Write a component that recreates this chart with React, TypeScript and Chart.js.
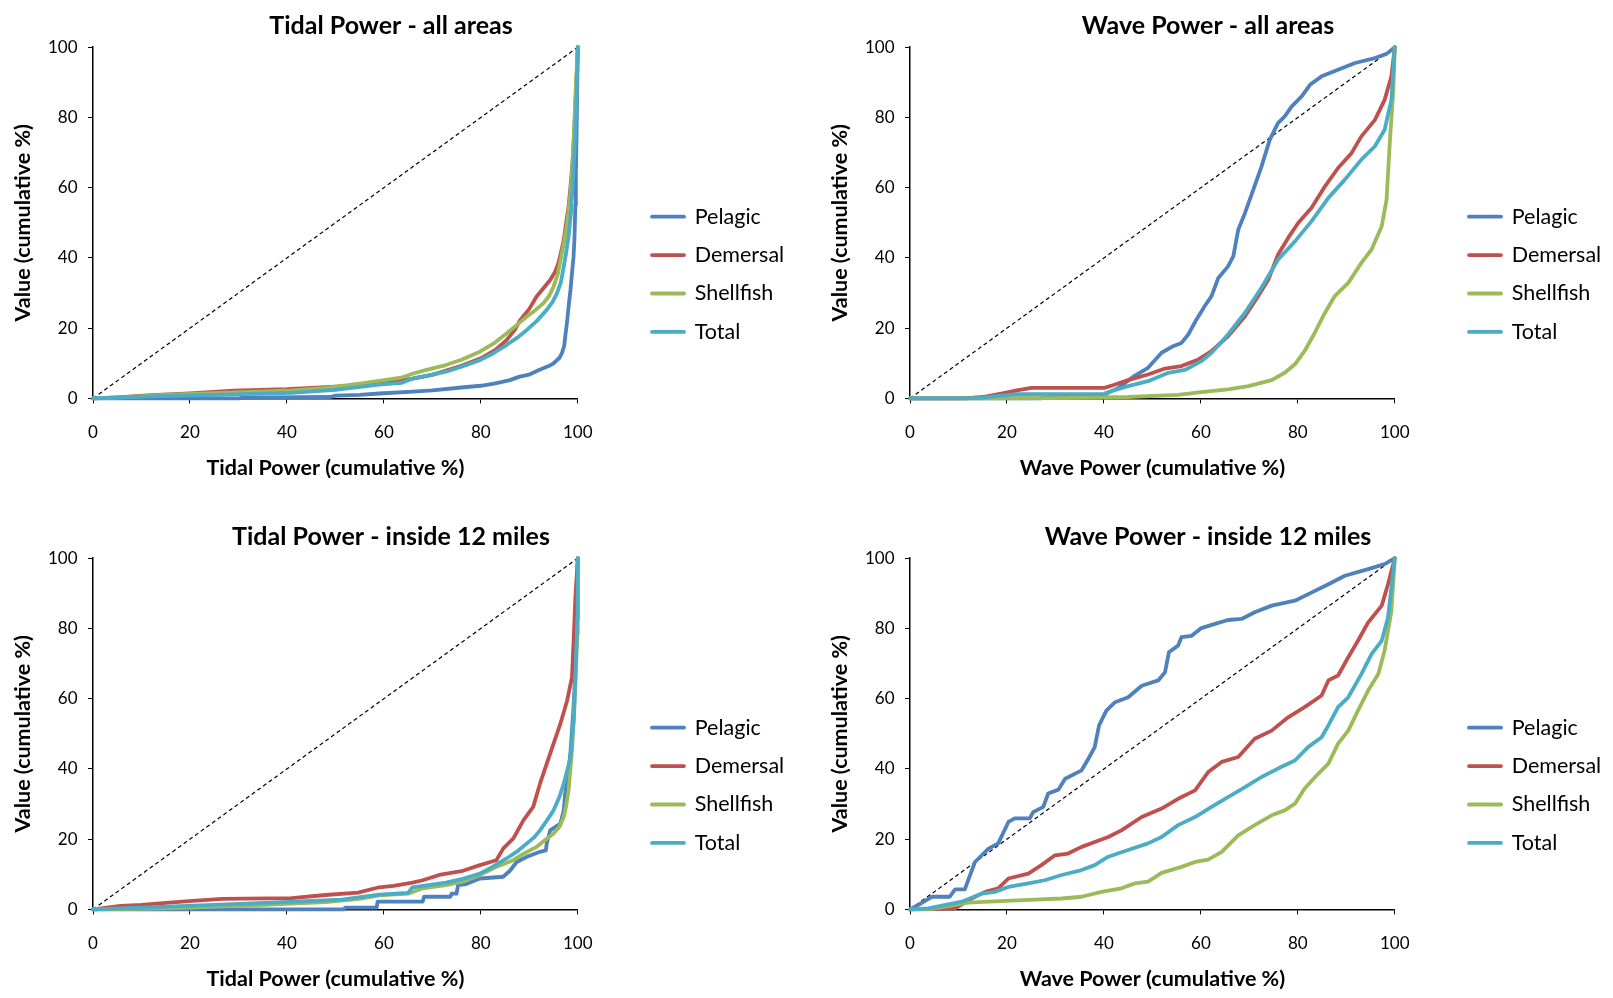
import React, { useEffect, useRef } from "react";
import { Chart, registerables } from "chart.js";

Chart.register(...registerables);

type Pt = [number, number];

// ---- series definitions -------------------------------------------------
const seriesNames = ["Pelagic", "Demersal", "Shellfish", "Total"];
const seriesColors = ["#4F81BD", "#C0504D", "#9BBB59", "#4BACC6"];
const axisTicks = [0, 20, 40, 60, 80, 100];
const equalityLine: Pt[] = [[0, 0], [100, 100]];

// Tidal power, all areas: cumulative share of value vs cumulative share of power
const tidalAllPelagic: Pt[] = [
  [0, 0], [30, 0], [31, 0.2], [49, 0.4], [50, 0.8], [55, 1], [59, 1.4], [66, 1.9], [70, 2.3],
  [76, 3.1], [80, 3.6], [83, 4.3], [86, 5.2], [88, 6.2], [90, 6.8], [92, 8.1], [94, 9.2],
  [95, 10], [96.2, 11.5], [96.7, 12.8], [97.2, 15], [97.4, 17.5], [97.8, 22], [98.1, 26.1],
  [98.5, 31], [98.8, 35.6], [99.1, 40], [99.3, 45.1], [99.5, 55], [99.6, 64], [99.8, 80], [100, 100],
];
const tidalAllDemersal: Pt[] = [
  [0, 0], [5, 0.3], [12, 0.9], [20, 1.4], [29, 2.2], [40, 2.6], [47, 3.1], [55, 3.7], [60, 4.5],
  [66, 5.6], [70, 6.7], [73, 8], [76, 9.3], [80, 11.4], [83, 13.8], [85.3, 16.6], [87, 19.5],
  [88.1, 22.3], [90, 25.5], [91.5, 29], [93, 31.5], [94.3, 33.7], [95.3, 36], [96, 38.5],
  [96.6, 42], [97.1, 45.1], [97.6, 50], [98.1, 54.6], [98.6, 62], [99, 68.9], [99.5, 83.1], [100, 100],
];
const tidalAllShellfish: Pt[] = [
  [0, 0], [6, 0.3], [14.5, 1], [25, 1.5], [41, 2.3], [48, 3], [55, 4.2], [59, 5], [63.6, 5.9],
  [66, 7.1], [69, 8.2], [72.8, 9.5], [76, 11], [79.8, 13.3], [82.5, 15.5], [85.3, 18.5],
  [87.5, 21], [89.5, 23.3], [91.3, 25.2], [92.9, 27.1], [94, 29], [95, 31.8], [95.9, 35.5],
  [96.7, 41.3], [97.3, 45.5], [97.8, 49.9], [98.4, 57], [98.8, 64.1], [99.2, 75], [99.5, 86], [100, 100],
];
const tidalAllTotal: Pt[] = [
  [0, 0], [12.5, 0.6], [25, 1], [41, 1.6], [50, 2.4], [54.7, 3.2], [59, 3.9], [63.6, 4.4],
  [66, 5.7], [69, 6.5], [72.8, 7.6], [76, 9], [79.8, 10.9], [82.5, 12.8], [85.3, 15.2],
  [87.5, 17.3], [89.5, 19.5], [91.5, 22], [93.6, 25.2], [94.8, 27.5], [95.7, 29.9], [96.5, 33],
  [97.1, 37.5], [97.6, 41.5], [98.1, 46.1], [98.6, 53], [99, 62.2], [99.4, 72], [99.7, 83], [100, 100],
];

// Wave power, all areas
const waveAllPelagic: Pt[] = [
  [0, 0], [27, 0], [27.5, 0.2], [40, 1], [43, 3], [46.4, 6.5], [49.1, 8.7], [51.9, 13], [54, 14.7],
  [56, 15.8], [57.4, 18.2], [59.1, 22.5], [60.8, 26.3], [62.2, 29.1], [63.6, 34.3], [65.6, 37.6],
  [66.7, 40.5], [67.7, 48], [69.1, 52.8], [70.8, 59.4], [72.5, 66], [74.2, 73.6], [75.9, 78.4],
  [77.3, 80.3], [78.7, 83.1], [80.8, 86], [82.5, 89.3], [84.9, 91.7], [88.3, 93.6], [91.8, 95.5],
  [95.9, 96.9], [98.3, 98.1], [100, 100],
];
const waveAllDemersal: Pt[] = [
  [0, 0], [11.3, 0], [15, 0.4], [19.6, 1.6], [22, 2.3], [25.1, 3], [40.1, 3], [42, 3.8], [45, 5.2],
  [49.1, 6.8], [52.6, 8.5], [56, 9.2], [59.5, 11.1], [62.2, 13.5], [65.6, 17.7], [69.1, 23.4],
  [71.8, 29.1], [73.9, 33.8], [75.9, 40.9], [78, 45.7], [80.1, 50], [82.8, 54.2], [85.6, 60.4],
  [88.3, 65.6], [91.1, 69.9], [93.1, 74.6], [95.9, 79.3], [97.9, 85], [99.3, 91.7], [100, 100],
];
const waveAllShellfish: Pt[] = [
  [0, 0], [14, 0], [30, 0.1], [45, 0.4], [55.3, 1], [60.1, 1.8], [65.6, 2.6], [69.8, 3.5],
  [74.6, 5.2], [77.3, 7.3], [79.4, 9.7], [81.4, 13.5], [83.5, 18.7], [85.6, 24.4], [87.6, 29.1],
  [90.4, 32.9], [93.1, 38.6], [95.2, 42.4], [97.3, 49], [98.3, 56.6], [99, 73.6], [99.7, 87.9], [100, 100],
];
const waveAllTotal: Pt[] = [
  [0, 0], [14, 0.1], [22, 1.2], [40, 1.3], [42, 2.3], [45, 3.5], [49.1, 4.9], [53.3, 7.3],
  [56.7, 8.1], [60.1, 10.6], [62.2, 13], [65.6, 18.2], [69.1, 24.4], [72.5, 31.5], [75.9, 39.5],
  [79.4, 44.7], [82.8, 50.4], [86.3, 57.1], [89.7, 62.3], [93.1, 68], [95.9, 71.8], [97.9, 76.5],
  [99.3, 85], [100, 100],
];

// Tidal power, inside 12 miles
const tidalInPelagic: Pt[] = [
  [0, 0], [51.8, 0], [52, 0.5], [58.5, 0.5], [58.7, 2.2], [68, 2.2], [68.3, 3.6], [73.7, 3.6],
  [74, 4.5], [75, 4.5], [75.3, 6.9], [77, 7.2], [79.8, 8.8], [84.6, 9.3], [86, 11], [87.4, 13.5],
  [89.5, 15], [92.2, 16.4], [93.4, 16.8], [93.6, 18.8], [94.3, 22.5], [96.4, 24.4], [97.1, 28.2],
  [97.4, 33], [98, 38], [98.5, 45], [99, 55], [99.3, 62], [99.6, 78], [100, 100],
];
const tidalInDemersal: Pt[] = [
  [0, 0], [5.7, 1], [10, 1.3], [15.7, 1.9], [20.5, 2.4], [26.7, 3], [41, 3.2], [47.9, 4.1],
  [54.7, 4.8], [59, 6.3], [62, 6.7], [65.9, 7.6], [68, 8.3], [71.4, 9.8], [76.3, 11], [79.8, 12.6],
  [83.2, 14], [84.6, 17.3], [86.7, 20.2], [88.8, 25.4], [90.8, 29.2], [92.2, 35.8], [93.6, 41.5],
  [95, 47.2], [96.4, 52.8], [97.8, 59.5], [98.8, 66.1], [99.2, 78.4], [99.5, 88.8], [100, 100],
];
const tidalInShellfish: Pt[] = [
  [0, 0], [15, 0.3], [34.2, 1.2], [47.9, 2.1], [55, 3], [59, 4], [65, 4.5], [68, 6], [72.8, 6.9],
  [76, 7.8], [79.8, 9.8], [83, 12], [86.7, 14], [89, 16], [91.5, 17.8], [93, 19.5], [95, 21.6],
  [96.2, 23.5], [97.1, 26.3], [97.6, 29.5], [98.1, 33.9], [98.8, 45.3], [99.2, 55], [99.5, 64.2],
  [99.9, 78.4], [100, 100],
];
const tidalInTotal: Pt[] = [
  [0, 0], [15.3, 0.8], [34.2, 1.8], [51.3, 2.8], [59, 4.2], [65, 4.7], [65.9, 6.3], [72.8, 7.6],
  [76, 8.6], [79.8, 10.2], [82.5, 12.2], [85.3, 14.5], [87.5, 16.5], [89.5, 18.8], [91, 20.5],
  [92.2, 22.5], [93.6, 25.3], [95, 28.2], [96.2, 32], [97.1, 35.8], [97.9, 40], [98.5, 43.4],
  [99.2, 54.7], [99.6, 70], [99.9, 83], [100, 100],
];

// Wave power, inside 12 miles
const waveInPelagic: Pt[] = [
  [0, 0], [2, 1.5], [4.5, 3.6], [8.2, 3.6], [9.3, 5.7], [11.3, 5.7], [13.4, 13.5], [16.2, 17.3],
  [18.2, 18.8], [20.3, 24.9], [21.6, 25.9], [24.7, 25.9], [25.4, 27.7], [27.5, 29.2], [28.5, 33],
  [30.6, 34.1], [32, 37.2], [35.4, 39.6], [36.8, 42.9], [38.1, 46.2], [39, 52.4], [40.5, 56.6],
  [42.3, 59], [45, 60.4], [47.8, 63.7], [51.2, 65.2], [52.6, 67.5], [53.4, 73.2], [55.3, 75.1],
  [56, 77.5], [58.1, 77.9], [60.1, 80.1], [62.9, 81.3], [65.6, 82.4], [68.4, 82.7], [71.1, 84.6],
  [74.6, 86.5], [79.4, 87.9], [82.8, 90.2], [86.3, 92.6], [89.7, 95], [94.5, 96.9], [97.9, 98.3], [100, 100],
];
const waveInDemersal: Pt[] = [
  [0, 0], [9.3, 0.3], [12.7, 3.1], [15.5, 5], [18.2, 6], [20.3, 8.8], [24.4, 10.2], [27.1, 12.6],
  [29.9, 15.4], [32.6, 15.9], [35.4, 17.8], [38.1, 19.2], [40.9, 20.6], [43.6, 22.5], [47.8, 26.3],
  [51.9, 28.7], [55.3, 31.5], [58.8, 33.9], [61.5, 39.1], [64.3, 42], [67.7, 43.4], [71.1, 48.6],
  [74.6, 50.9], [78, 54.7], [81.4, 57.6], [84.9, 60.9], [86.3, 65.2], [88.3, 66.6], [90.4, 71.8],
  [92.4, 76.5], [94.5, 81.7], [97.3, 86.5], [98.6, 92.6], [100, 100],
];
const waveInShellfish: Pt[] = [
  [0, 0], [3.8, 0], [7.9, 0.9], [12, 1.9], [16.2, 2.2], [21, 2.5], [25.8, 2.8], [31.3, 3.1],
  [35.4, 3.6], [39.5, 5], [43.6, 6], [46.4, 7.4], [49.1, 7.9], [51.9, 10.4], [56, 12.1],
  [58.8, 13.5], [61.5, 14.2], [64.3, 16.4], [67.7, 21.1], [71.1, 24], [74.6, 26.8], [77.3, 28.2],
  [79.4, 30.1], [81.4, 34.4], [84.2, 38.6], [86.3, 41.5], [88.3, 47.2], [90.4, 50.9], [92.4, 56.6],
  [94.5, 62.3], [96.6, 67], [97.9, 73.7], [99.3, 85], [100, 100],
];
const waveInTotal: Pt[] = [
  [0, 0], [3.8, 0.3], [10.7, 2.2], [14.8, 4.5], [17.5, 5], [20.3, 6.4], [24.4, 7.4], [27.8, 8.3],
  [31.3, 9.8], [35.4, 11.2], [38.1, 12.6], [40.9, 15], [45, 16.9], [49.1, 18.8], [51.9, 20.6],
  [55.3, 24], [58.8, 26.3], [62.2, 29.2], [65.6, 32], [69.1, 34.8], [72.5, 37.7], [75.9, 40.1],
  [79.4, 42.4], [82.1, 46.2], [84.9, 49], [86.3, 52.4], [88.3, 57.6], [90.4, 60.4], [93.1, 67],
  [95.2, 72.7], [97.3, 76.5], [98.6, 83.1], [100, 100],
];

const panelTitles = [
  "Tidal Power - all areas",
  "Wave Power - all areas",
  "Tidal Power - inside 12 miles",
  "Wave Power - inside 12 miles",
];
const panelXTitles = [
  "Tidal Power (cumulative %)",
  "Wave Power (cumulative %)",
  "Tidal Power (cumulative %)",
  "Wave Power (cumulative %)",
];
const yAxisTitle = "Value (cumulative %)";
const panelSeries: Pt[][][] = [
  [tidalAllPelagic, tidalAllDemersal, tidalAllShellfish, tidalAllTotal],
  [waveAllPelagic, waveAllDemersal, waveAllShellfish, waveAllTotal],
  [tidalInPelagic, tidalInDemersal, tidalInShellfish, tidalInTotal],
  [waveInPelagic, waveInDemersal, waveInShellfish, waveInTotal],
];

// ---- layout ---------------------------------------------------------------
const FONT = "Lato";
const FRAME_W = 796;
const FRAME_H = 487;
const AREA = { left: 93, right: 577.8, top: 47.2, bottom: 398.4 };
const X_AXIS_H = 82.5;
const LINE_W = 3.8;
const panelOrigins: [number, number][] = [[0, 0], [817, 0], [0, 511], [817, 511]];

// Moves the legend and the title block to fixed spots beside the plot area.
const pinBlocks = {
  id: "pinBlocks",
  afterLayout(chart: any, _args: any, opts: any) {
    const lg = chart.legend;
    if (lg && opts.legendX != null) {
      const pad = lg.options.labels.padding;
      const w = lg.width;
      lg.left = opts.legendX - pad;
      lg.right = lg.left + w;
      lg.top = opts.legendMidY - 120;
      lg.bottom = opts.legendMidY + 120;
      lg.height = 240;
    }
    const tb = chart.titleBlock;
    if (tb && opts.titleMidX != null) {
      const w = tb.width;
      tb.left = opts.titleMidX - w / 2;
      tb.right = opts.titleMidX + w / 2;
    }
  },
};

function buildConfig(title: string, xTitle: string, series: Pt[][]): any {
  const datasets: any[] = series.map((pts, i) => ({
    label: seriesNames[i],
    data: pts.map(([x, y]) => ({ x, y })),
    borderColor: seriesColors[i],
    backgroundColor: seriesColors[i],
    borderWidth: LINE_W,
    borderCapStyle: "round",
    borderJoinStyle: "round",
    pointRadius: 0,
    pointHoverRadius: 0,
    showLine: true,
    tension: 0,
    clip: false,
    order: series.length - i,
  }));
  datasets.push({
    label: "Equality",
    data: equalityLine.map(([x, y]) => ({ x, y })),
    borderColor: "#000",
    backgroundColor: "#000",
    borderWidth: 1.2,
    borderDash: [4, 3],
    pointRadius: 0,
    pointHoverRadius: 0,
    showLine: true,
    tension: 0,
    order: 10,
  });

  const tickFont = { family: FONT, size: 17 };
  const axisTitleFont = { family: FONT, size: 21.5, weight: "bold" };
  const grid = {
    display: true,
    drawOnChartArea: false,
    drawTicks: true,
    tickLength: 5,
    color: "#000",
    tickColor: "#000",
    lineWidth: 1,
  };
  const border = { display: true, color: "#000", width: 1.5 };
  const setTicks = (s: any) => {
    s.ticks = axisTicks.map((v) => ({ value: v }));
  };

  return {
    type: "scatter",
    data: { datasets },
    plugins: [pinBlocks],
    options: {
      responsive: false,
      animation: false,
      events: [],
      layout: {
        padding: {
          left: 0,
          top: 0,
          right: FRAME_W - AREA.right,
          bottom: FRAME_H - AREA.bottom - X_AXIS_H,
        },
      },
      scales: {
        x: {
          type: "linear",
          min: 0,
          max: 100,
          afterBuildTicks: setTicks,
          afterFit: (s: any) => {
            s.height = X_AXIS_H;
          },
          grid,
          border,
          ticks: { font: tickFont, color: "#000", padding: 19, maxRotation: 0, autoSkip: false },
          title: {
            display: true,
            text: xTitle,
            font: axisTitleFont,
            color: "#000",
            padding: { top: 0, bottom: 0 },
          },
        },
        y: {
          type: "linear",
          min: 0,
          max: 100,
          afterBuildTicks: setTicks,
          afterFit: (s: any) => {
            s.width = AREA.left;
          },
          grid,
          border,
          ticks: { font: tickFont, color: "#000", padding: 10.5, autoSkip: false },
          title: {
            display: true,
            text: yAxisTitle,
            font: axisTitleFont,
            color: "#000",
            padding: { top: 9.7, bottom: 0 },
          },
        },
      },
      plugins: {
        title: {
          display: true,
          text: title,
          color: "#000",
          font: { family: FONT, size: 25, weight: "bold" },
          padding: { top: 10.7, bottom: 6.5 },
        },
        legend: {
          display: true,
          position: "chartArea",
          labels: {
            usePointStyle: true,
            pointStyleWidth: 32,
            padding: 16.9,
            color: "#000",
            font: { family: FONT, size: 21.5 },
            generateLabels: () =>
              seriesNames.map((name, i) => ({
                text: name,
                fillStyle: seriesColors[i],
                strokeStyle: seriesColors[i],
                lineWidth: LINE_W,
                lineCap: "round",
                pointStyle: "line",
                hidden: false,
                fontColor: "#000",
                datasetIndex: i,
              })),
          },
        },
        tooltip: { enabled: false },
        pinBlocks: { legendX: 652, legendMidY: 274.3, titleMidX: 391 },
      },
    },
  };
}

function Panel({ index }: { index: number }) {
  const ref = useRef<HTMLCanvasElement>(null);
  useEffect(() => {
    if (!ref.current) return;
    const chart = new Chart(
      ref.current,
      buildConfig(panelTitles[index], panelXTitles[index], panelSeries[index])
    );
    return () => chart.destroy();
  }, [index]);
  const [left, top] = panelOrigins[index];
  return (
    <div style={{ position: "absolute", left, top, width: FRAME_W, height: FRAME_H }}>
      <canvas
        ref={ref}
        width={FRAME_W}
        height={FRAME_H}
        style={{ display: "block", width: FRAME_W, height: FRAME_H }}
      />
    </div>
  );
}

export default function App() {
  return (
    <div
      style={{
        position: "absolute",
        left: 0,
        top: 0,
        width: 1613,
        height: 998,
        background: "#fff",
        overflow: "hidden",
      }}
    >
      {panelTitles.map((_, i) => (
        <Panel key={i} index={i} />
      ))}
    </div>
  );
}
